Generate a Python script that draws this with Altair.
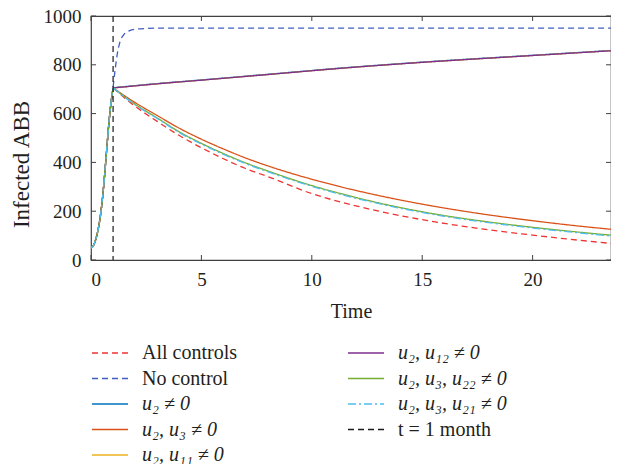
import altair as alt
import pandas as pd

FONT = "Liberation Serif"
TEXT = "#231f20"
FRAME = "#404040"

# ---- series (MATLAB plot order) ----
series_names = [
    "\u00a0All controls",
    "\u00a0No control",
    "u₂ ≠ 0",
    "u₂, u₃ ≠ 0",
    "u₂, u₁₁ ≠ 0",
    "u₂, u₁₂ ≠ 0",
    "u₂, u₃, u₂₂ ≠ 0",
    "u₂, u₃, u₂₁ ≠ 0",
    "t = 1 month",
]
series_colors = ["#EE3333", "#3F5FC0", "#0072BD", "#D95319", "#EDB120",
                 "#7E2F8E", "#77AC30", "#4DBEEE", "#1a1a1a"]
series_dashes = [[6, 4], [6, 4], [1, 0], [1, 0], [1, 0], [1, 0], [1, 0],
                 [8, 3, 2, 3], [6, 4]]

# common rising phase (t in months, before controls start)
rise_t = [0, 0.1, 0.2, 0.3, 0.4, 0.5, 0.6, 0.7, 0.8, 0.9, 1.0]
rise_v = [50, 58, 80, 115, 165, 235, 330, 440, 550, 640, 705]

# decaying controlled runs
post_t = [1, 2, 3, 4, 5, 6, 7, 8, 10, 12, 14, 16, 18, 20, 22, 24]
all_controls_v = [705, 630, 568, 510, 460, 415, 375, 342, 272, 222, 182, 150, 124, 102, 82, 64]
u2_u3_v = [705, 645, 592, 540, 495, 455, 418, 386, 331, 285, 246, 213, 185, 161, 140, 122]
u2_u3_u22_v = [705, 638, 582, 525, 478, 436, 398, 365, 305, 256, 215, 182, 156, 134, 115, 98]
u2_u3_u21_v = [705, 636, 580, 522, 475, 433, 395, 362, 302, 253, 212, 179, 153, 131, 112, 95]

# slowly rising runs
lin_t = [1, 3, 5, 8, 11.5, 15, 20, 24]
u2_v = [706, 723, 738, 761, 788, 811, 839, 861]
u2_u11_v = [705, 722, 737, 760, 787, 810, 838, 860]
u2_u12_v = [705, 722, 737, 760, 787, 810, 838, 860]

# no control
noctrl_t = [1, 1.1, 1.2, 1.3, 1.5, 1.75, 2, 2.5, 3, 24]
noctrl_v = [708, 785, 850, 890, 925, 940, 946, 949, 950, 950]

vline_t = [1]

x_ticks = [0, 5, 10, 15, 20]
y_ticks = [0, 200, 400, 600, 800, 1000]

post = {
    series_names[0]: (post_t, all_controls_v),
    series_names[1]: (noctrl_t, noctrl_v),
    series_names[2]: (lin_t, u2_v),
    series_names[3]: (post_t, u2_u3_v),
    series_names[4]: (lin_t, u2_u11_v),
    series_names[5]: (lin_t, u2_u12_v),
    series_names[6]: (post_t, u2_u3_u22_v),
    series_names[7]: (post_t, u2_u3_u21_v),
}

rows = []
for name, (pt, pv) in post.items():
    for t, v in zip(rise_t, rise_v):
        rows.append({"t": t, "v": v, "series": name, "part": "a"})
    for t, v in zip(pt, pv):
        rows.append({"t": t, "v": v, "series": name, "part": "b"})
df = pd.DataFrame(rows)
vdf = pd.DataFrame({"t": vline_t, "series": [series_names[8]]})
xt_df = pd.DataFrame({"t": x_ticks})
yt_df = pd.DataFrame({"v": y_ticks})

W, H = 520, 244

legend = alt.Legend(
    title=None, orient="none", legendX=8, legendY=326, columns=2,
    columnPadding=108, rowPadding=4.5,
    symbolType="M-1.8,0L1.8,0", symbolSize=400, symbolStrokeWidth=1.5,
    labelFont=FONT, labelFontSize=20, labelColor=TEXT, labelOffset=21,
    labelLimit=0,
    labelFontStyle={"expr": "indexof(datum.label, 'u') == 0 ? 'italic' : 'normal'"},
)
color = alt.Color("series:N", scale=alt.Scale(domain=series_names, range=series_colors), legend=legend)
dash = alt.StrokeDash("series:N", scale=alt.Scale(domain=series_names, range=series_dashes), legend=legend)

x_enc = alt.X("t:Q", scale=alt.Scale(domain=[0, 23.55], nice=False, zero=False),
              axis=alt.Axis(values=x_ticks, title="Time", ticks=False, domain=False, grid=False,
                            labelFont=FONT, titleFont=FONT, format="d",
                            labelFontSize=19, titleFontSize=20,
                            labelPadding=10, titlePadding=12))
y_enc = alt.Y("v:Q", scale=alt.Scale(domain=[0, 1000], nice=False),
              axis=alt.Axis(values=y_ticks, title="Infected ABB", ticks=False, domain=False, grid=False,
                            labelFont=FONT, titleFont=FONT, format="d",
                            labelFontSize=19, titleFontSize=23, titleY=148,
                            labelPadding=10, titlePadding=10))

layers = []
for name in series_names[:8]:
    layers.append(
        alt.Chart(df).transform_filter(alt.FieldEqualPredicate(field="series", equal=name))
        .mark_line(strokeWidth=1.3, interpolate="monotone", clip=True)
        .encode(x=x_enc, y=y_enc, color=color, strokeDash=dash, detail="part:N")
    )
layers.append(
    alt.Chart(vdf).mark_rule(strokeWidth=1.2).encode(x=alt.X("t:Q"), color=color, strokeDash=dash)
)
# inward tick marks on all four sides
layers.append(alt.Chart(yt_df).mark_rule(color=FRAME, strokeWidth=1).encode(
    y=alt.Y("v:Q"), x=alt.value(0), x2=alt.value(5)))
layers.append(alt.Chart(yt_df).mark_rule(color=FRAME, strokeWidth=1).encode(
    y=alt.Y("v:Q"), x=alt.value(W - 5), x2=alt.value(W)))
layers.append(alt.Chart(xt_df).mark_rule(color=FRAME, strokeWidth=1).encode(
    x=alt.X("t:Q"), y=alt.value(H), y2=alt.value(H - 5)))
layers.append(alt.Chart(xt_df).mark_rule(color=FRAME, strokeWidth=1).encode(
    x=alt.X("t:Q"), y=alt.value(0), y2=alt.value(5)))

chart = (
    alt.layer(*layers)
    .properties(width=W, height=H, autosize=alt.AutoSizeParams(type="none"),
                padding={"left": 83, "top": 8, "right": 0, "bottom": 204})
    .configure_view(stroke=FRAME, strokeWidth=1.2)
    .configure_axis(labelFont=FONT, titleFont=FONT,
                    labelColor=TEXT, titleColor=TEXT, titleFontWeight="normal")
)

chart.save("out.html", embed_options={"renderer": "svg", "actions": False})
